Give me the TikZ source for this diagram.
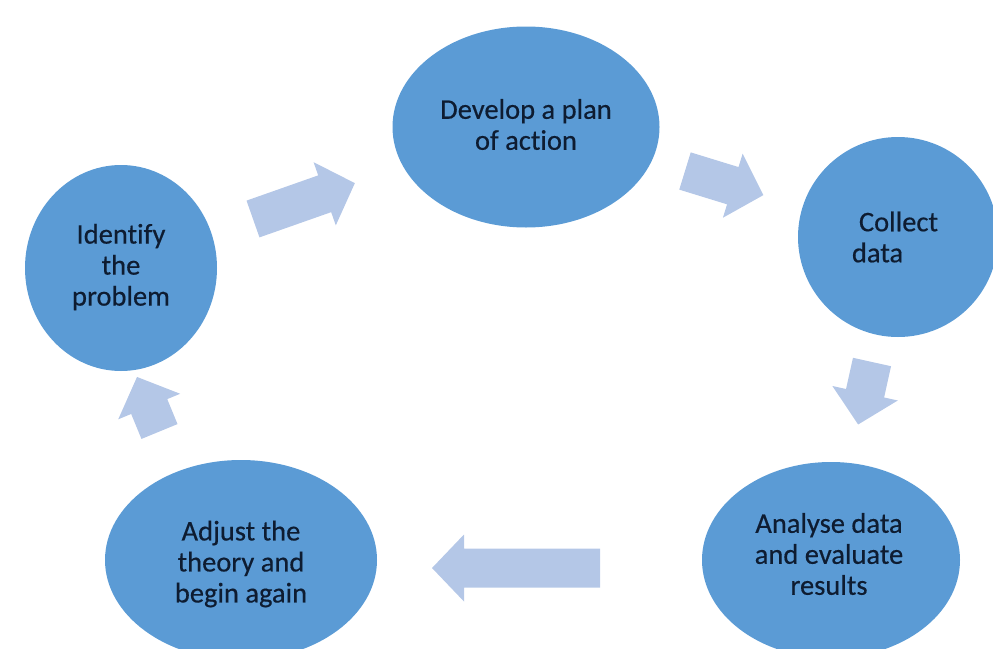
\documentclass[tikz,border=0pt]{standalone}
\usepackage{fontspec}
\setmainfont{Carlito}[RawFeature=-liga, FakeBold=0.4]
\usetikzlibrary{shapes.geometric}

\definecolor{stepblue}{HTML}{5B9BD5}
\definecolor{arrowblue}{HTML}{B4C7E7}
\definecolor{inkblue}{HTML}{0E1C31}

% block arrow: tail coordinate, direction (degrees), overall length
\newcommand{\flowarrow}[3]{%
  \begin{scope}[shift={(#1)}, rotate=#2]
    \fill[arrowblue] (0,-19.5) -- (#3-32,-19.5) -- (#3-32,-33.5) -- (#3,0)
      -- (#3-32,33.5) -- (#3-32,19.5) -- (0,19.5) -- cycle;
  \end{scope}}

\begin{document}
\begin{tikzpicture}[x=1pt, y=-1pt,
  stage/.style={ellipse, fill=stepblue, inner sep=0pt},
  stagetext/.style={inner sep=0pt, align=center, text=inkblue,
    font=\fontsize{28.5}{31}\selectfont}]
  \useasboundingbox (0,0) rectangle (993,648);
  \clip (0,0) rectangle (993,648);

  % the five stages of the cycle
  \node[stage, minimum width=192, minimum height=206] (identify) at (121,268) {};
  \node[stage, minimum width=267, minimum height=201] (plan) at (526,127) {};
  \node[stage, minimum width=200, minimum height=200] (collect) at (898,237) {};
  \node[stage, minimum width=258, minimum height=196] (analyse) at (831,560) {};
  \node[stage, minimum width=272, minimum height=200] (adjust) at (241,560) {};

  % their captions
  \node[stagetext, yshift=1pt] (identify-text) at (identify) {Identify\\the\\problem};
  \node[stagetext, yshift=2.5pt] (plan-text) at (plan) {Develop a plan\\of action};
  \node[stagetext, align=left, xshift=-3pt] (collect-text) at (collect)
    {\hspace*{7pt}Collect\\data};
  \node[stagetext, yshift=6pt, xshift=-2pt] (analyse-text) at (analyse)
    {Analyse data\\and evaluate\\results};
  \node[stagetext, yshift=-4pt] (adjust-text) at (adjust)
    {Adjust the\\theory and\\begin again};

  % tails of the block arrows between the stages
  \coordinate (a1) at (253,219);
  \coordinate (a2) at (685,171);
  \coordinate (a3) at (872,362);
  \coordinate (a4) at (600,568);
  \coordinate (a5) at (159.5,431.5);

  \flowarrow{a1}{19.4}{108}
  \flowarrow{a2}{-17.1}{82}
  \flowarrow{a3}{-102.5}{64}
  \flowarrow{a4}{180}{168}
  \flowarrow{a5}{112.4}{59}
\end{tikzpicture}
\end{document}
